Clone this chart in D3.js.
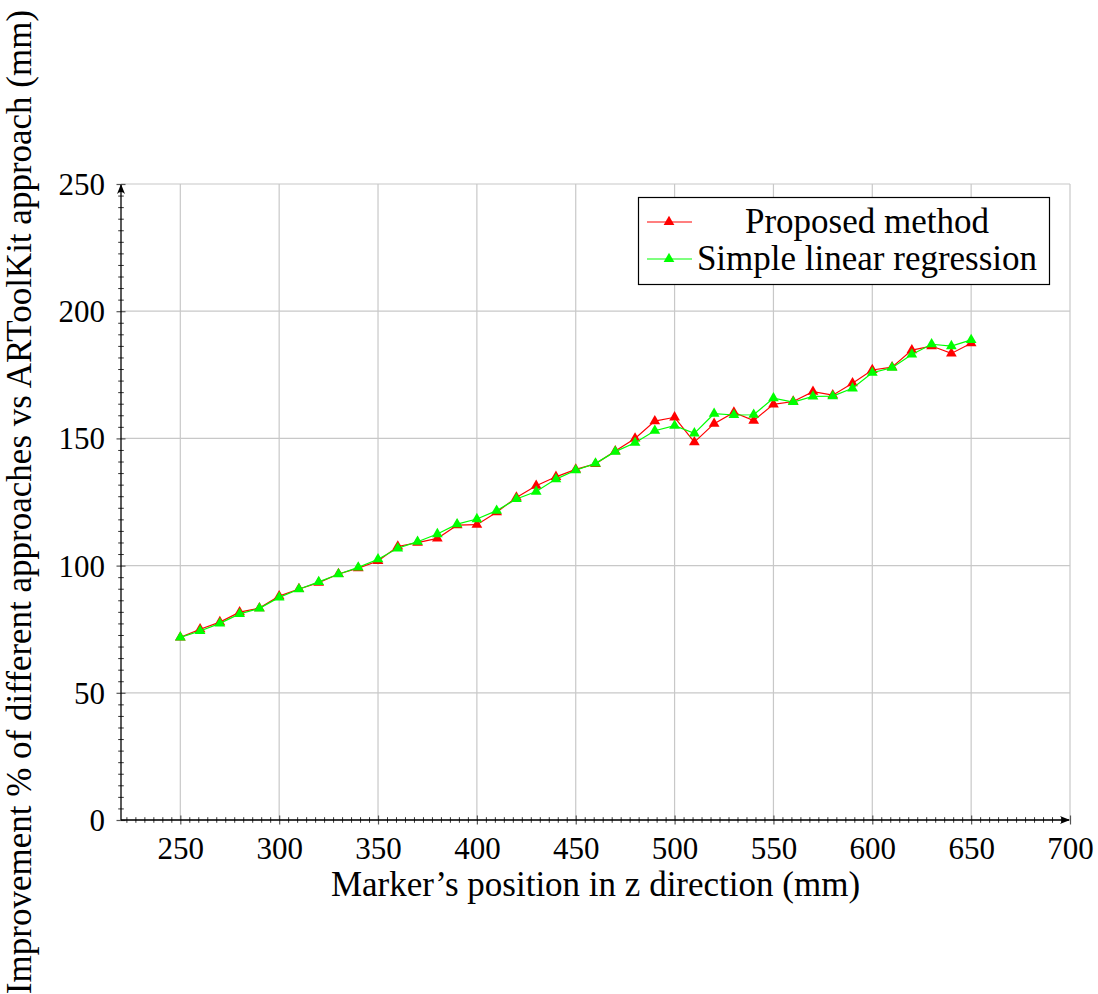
<!DOCTYPE html>
<html>
<head>
<meta charset="utf-8">
<script src="https://cdn.jsdelivr.net/npm/d3@7"></script>
<style>
  html, body { margin: 0; padding: 0; background: #fff; }
  svg { display: block; }
  text { font-family: "Liberation Serif", "Times New Roman", serif; fill: #000; }
</style>
</head>
<body>
<svg id="chart" width="1098" height="994"></svg>
<script>
// ---- data ----
const positions = [250, 260, 270, 280, 290, 300, 310, 320, 330, 340, 350, 360, 370, 380, 390, 400, 410, 420, 430, 440, 450, 460, 470, 480, 490, 500, 510, 520, 530, 540, 550, 560, 570, 580, 590, 600, 610, 620, 630, 640, 650];
const proposed = [71.8, 75.0, 77.8, 81.7, 83.3, 88.0, 90.8, 93.3, 96.7, 99.0, 101.8, 107.5, 109.0, 110.7, 115.9, 116.1, 121.0, 126.8, 131.4, 134.9, 137.8, 140.0, 145.0, 150.0, 156.8, 158.3, 148.5, 155.8, 160.2, 157.0, 163.4, 164.5, 168.4, 167.0, 171.7, 176.9, 178.0, 184.7, 186.3, 183.4, 187.4];
const regression = [71.8, 74.3, 77.3, 81.0, 83.2, 87.5, 90.7, 93.6, 96.6, 99.3, 102.5, 106.8, 109.4, 112.4, 116.3, 118.3, 121.6, 126.2, 129.1, 134.0, 137.5, 140.2, 144.8, 148.3, 153.0, 155.0, 152.0, 159.7, 159.2, 159.3, 165.8, 164.3, 166.5, 166.6, 169.7, 175.8, 177.8, 183.0, 187.0, 186.3, 188.7];
const xTicks = [250, 300, 350, 400, 450, 500, 550, 600, 650, 700];
const yTicks = [0, 50, 100, 150, 200, 250];
const seriesNames = ["Proposed method", "Simple linear regression"];
const seriesColors = ["#ff0000", "#00ff00"];
const xLabel = "Marker\u2019s position in z direction (mm)";
const yLabel = "Improvement % of different approaches vs ARToolKit approach (mm)";

// ---- layout ----
const svg = d3.select("#chart");
const pL = 121, pR = 1070, pT = 184, pB = 820;
const x = d3.scaleLinear().domain([220, 700]).range([pL, pR]);
const y = d3.scaleLinear().domain([0, 250]).range([pB, pT]);

// minor ticks: 10 between each pair of majors
function minorTicks(majors, step, lo, hi) {
  const out = [];
  const d = step / 11;
  const first = majors[0];
  for (let v = first; v >= lo - 1e-9; v -= d) out.push(v);
  for (let v = first + d; v <= hi + 1e-9; v += d) out.push(v);
  return out.filter(v => !majors.some(m => Math.abs(m - v) < 1e-6));
}

// grid
const grid = svg.append("g").attr("stroke", "#c8c8c8").attr("stroke-width", 1.2);
grid.selectAll("line.vx").data(xTicks).join("line")
  .attr("x1", d => x(d)).attr("x2", d => x(d)).attr("y1", pT).attr("y2", pB);
grid.selectAll("line.hy").data(yTicks).join("line")
  .attr("x1", pL).attr("x2", pR).attr("y1", d => y(d)).attr("y2", d => y(d));

// axes
const xAxisG = svg.append("g").attr("transform", `translate(0,${pB})`);
xAxisG.call(d3.axisBottom(x).tickValues(minorTicks(xTicks, 50, 220, 700)).tickSize(0).tickFormat(""));
xAxisG.selectAll(".tick line").attr("y1", -2.8).attr("y2", 2.8).attr("stroke", "#333").attr("stroke-width", 1);
xAxisG.select(".domain").remove();

const xMajorG = svg.append("g").attr("transform", `translate(0,${pB})`);
xMajorG.call(d3.axisBottom(x).tickValues(xTicks).tickSize(0).tickPadding(0).tickFormat(d3.format("d")));
xMajorG.select(".domain").remove();
xMajorG.selectAll(".tick line").attr("y1", -4.5).attr("y2", 4.5).attr("stroke", "#555").attr("stroke-width", 1.2);
xMajorG.selectAll(".tick text").attr("y", 39).attr("dy", 0).style("font-size", "31px").style("font-family", "Liberation Serif");

const yAxisG = svg.append("g").attr("transform", `translate(${pL},0)`);
yAxisG.call(d3.axisLeft(y).tickValues(minorTicks(yTicks, 50, 0, 250)).tickSize(0).tickFormat(""));
yAxisG.selectAll(".tick line").attr("x1", -2.8).attr("x2", 2.8).attr("stroke", "#333").attr("stroke-width", 1);
yAxisG.select(".domain").remove();

const yMajorG = svg.append("g").attr("transform", `translate(${pL},0)`);
yMajorG.call(d3.axisLeft(y).tickValues(yTicks).tickSize(0).tickFormat(d3.format("d")));
yMajorG.select(".domain").remove();
yMajorG.selectAll(".tick line").attr("x1", -4.5).attr("x2", 4.5).attr("stroke", "#555").attr("stroke-width", 1.2);
yMajorG.selectAll(".tick text").attr("x", -16).attr("dy", "0.34em").style("font-size", "31px").style("font-family", "Liberation Serif");

// axis lines with arrows
const defs = svg.append("defs");
defs.append("marker").attr("id", "arrow").attr("viewBox", "0 0 10 10")
  .attr("refX", 9).attr("refY", 5).attr("markerWidth", 10).attr("markerHeight", 10)
  .attr("markerUnits", "userSpaceOnUse").attr("orient", "auto")
  .append("path").attr("d", "M0,1 Q4,5 0,9 L10,5 Z").attr("fill", "#000");
svg.append("line").attr("x1", pL).attr("x2", pR - 1).attr("y1", pB).attr("y2", pB)
  .attr("stroke", "#000").attr("stroke-width", 1.3).attr("marker-end", "url(#arrow)");
svg.append("line").attr("x1", pL).attr("x2", pL).attr("y1", pB).attr("y2", pT + 1)
  .attr("stroke", "#000").attr("stroke-width", 1.3).attr("marker-end", "url(#arrow)");

// series
const tri = d3.symbol().type(d3.symbolTriangle).size(50);
const allSeries = [proposed, regression];
allSeries.forEach((vals, i) => {
  const pts = positions.map((p, k) => [p, vals[k]]);
  const g = svg.append("g");
  g.append("path").datum(pts)
    .attr("fill", "none").attr("stroke", seriesColors[i]).attr("stroke-width", 1.2)
    .attr("d", d3.line().x(d => x(d[0])).y(d => y(d[1])));
  g.selectAll("path.m").data(pts).join("path").attr("class", "m")
    .attr("transform", d => `translate(${x(d[0])},${y(d[1])})`)
    .attr("d", tri).attr("fill", seriesColors[i]);
});

// legend
const lg = svg.append("g");
lg.append("rect").attr("x", 638.5).attr("y", 197.5).attr("width", 411).attr("height", 87)
  .attr("fill", "#fff").attr("stroke", "#000").attr("stroke-width", 1.2);
seriesNames.forEach((name, i) => {
  const cy = 222 + i * 37;
  lg.append("line").attr("x1", 647).attr("x2", 692).attr("y1", cy).attr("y2", cy)
    .attr("stroke", seriesColors[i]).attr("stroke-width", 1.2);
  lg.append("path").attr("transform", `translate(669,${cy})`).attr("d", tri).attr("fill", seriesColors[i]);
  lg.append("text").attr("x", 867).attr("y", cy + 11).attr("text-anchor", "middle")
    .style("font-size", "35px").text(name);
});

// axis labels
svg.append("text").attr("x", (pL + pR) / 2).attr("y", 896).attr("text-anchor", "middle")
  .style("font-size", "35px").text(xLabel);
svg.append("text").attr("transform", `translate(31,${(pT + pB) / 2}) rotate(-90)`)
  .attr("text-anchor", "middle").style("font-size", "35px").text(yLabel);
</script>
</body>
</html>
